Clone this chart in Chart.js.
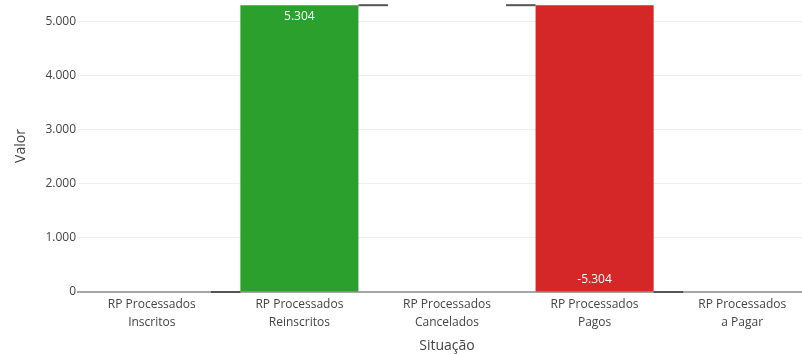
<!DOCTYPE html>
<html><head><meta charset="utf-8">
<script src="https://cdn.jsdelivr.net/npm/chart.js@4.4.1/dist/chart.umd.min.js"></script>
<style>html,body{margin:0;padding:0;overflow:hidden;background:#fff;width:802px;height:354px}#wrap{width:816px;height:354px}</style>
</head><body><div id="wrap"><canvas id="c" width="816" height="354"></canvas></div>
<script>
const categories = [["RP Processados","Inscritos"],["RP Processados","Reinscritos"],["RP Processados","Cancelados"],["RP Processados","Pagos"],["RP Processados","a Pagar"]];
const changes = [0, 5304, 0, -5304, 0];
const measures = ["relative","relative","relative","relative","relative"];
const yTicks = [0,1000,2000,3000,4000,5000];

const fmt = v => { const s = Math.abs(Math.round(v)).toString().replace(/\B(?=(\d{3})+(?!\d))/g,'.'); return (v<0?'-':'')+s; };

let run = 0; const floating = [], ends = [];
changes.forEach(c => { const a = run; run += c; floating.push([a, run]); ends.push(run); });
const colors = changes.map(c => c > 0 ? '#2ca02c' : (c < 0 ? '#d62728' : 'rgba(0,0,0,0)'));

const FONT = "'Open Sans', sans-serif";
const waterfallPlugin = {
  id: 'wf',
  afterDatasetsDraw(chart) {
    const ctx = chart.ctx, meta = chart.getDatasetMeta(0), y = chart.scales.y;
    ctx.save();
    ctx.strokeStyle = '#555'; ctx.lineWidth = 2;
    for (let i = 0; i < meta.data.length - 1; i++) {
      const b1 = meta.data[i], b2 = meta.data[i+1];
      const py = y.getPixelForValue(ends[i]);
      ctx.beginPath();
      ctx.moveTo(b1.x + b1.width/2, py); ctx.lineTo(b2.x - b2.width/2, py); ctx.stroke();
    }
    ctx.fillStyle = '#fff'; ctx.font = "12px " + FONT; ctx.textAlign = 'center'; ctx.textBaseline = 'middle';
    meta.data.forEach((b, i) => {
      const c = changes[i]; if (!c) return;
      const endPx = y.getPixelForValue(ends[i]);
      ctx.fillText(fmt(c), b.x, c > 0 ? endPx + 11 : endPx - 12);
    });
    ctx.restore();
  }
};
const zeroPlugin = {
  id: 'zl',
  beforeDatasetsDraw(chart) {
    const ctx = chart.ctx, y = chart.scales.y, py = y.getPixelForValue(0);
    ctx.save(); ctx.strokeStyle = '#a6a6a6'; ctx.lineWidth = 2;
    ctx.beginPath(); ctx.moveTo(77, py); ctx.lineTo(chart.width, py); ctx.stroke(); ctx.restore();
  }
};

new Chart(document.getElementById('c'), {
  type: 'bar',
  data: { labels: categories, datasets: [{ data: floating, backgroundColor: colors, borderWidth: 0, barPercentage: 0.8, categoryPercentage: 1 }] },
  options: {
    responsive: false, animation: false,
    layout: { padding: { left: 0, right: 0, top: 0, bottom: 0 } },
    plugins: { legend: { display: false }, tooltip: { enabled: false } },
    scales: {
      x: {
        grid: { display: false, drawTicks: false }, border: { display: false },
        ticks: { color: '#444', font: { family: FONT, size: 12, lineHeight: 1.55 }, padding: 3, maxRotation: 0 },
        title: { display: true, text: 'Situação', color: '#444', font: { family: FONT, size: 14 }, padding: { top: 2, bottom: 0 } },
        afterFit(s) { s.height = 62; s.paddingLeft = 0; s.paddingRight = 0; }
      },
      y: {
        min: 0, max: 5400,
        afterBuildTicks(s) { s.ticks = yTicks.map(v => ({ value: v })); },
        grid: { color: '#eeeeee', drawTicks: false, lineWidth: 1 }, border: { display: false },
        ticks: { color: '#444', font: { family: FONT, size: 12 }, padding: 2, callback: v => fmt(v) },
        title: { display: true, text: 'Valor', color: '#444', font: { family: FONT, size: 14 }, padding: { top: 13, bottom: 0 } },
        afterFit(s) { s.width = 78; s.paddingTop = 0; s.paddingBottom = 0; }
      }
    }
  },
  plugins: [zeroPlugin, waterfallPlugin]
});
</script></body></html>
